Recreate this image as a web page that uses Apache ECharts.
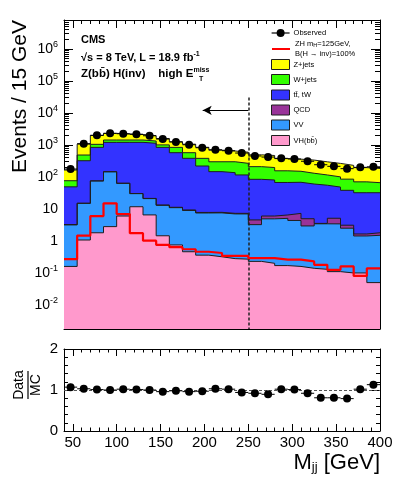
<!DOCTYPE html>
<html><head><meta charset="utf-8">
<script src="https://cdn.jsdelivr.net/npm/echarts@6/dist/echarts.min.js"></script>
<style>html,body{margin:0;padding:0;background:#fff}#c{width:399px;height:479px}</style>
</head><body><div id="c"></div>
<script>
// ---------------- data ----------------
const binEdges = [40,55,70,85,100,115,130,145,160,175,190,205,220,235,250,265,280,295,310,325,340,355,370,385,400];
const observed = [176,1090,1990,2290,2230,2140,1930,1520,1230,1010,815,705,657,556,450,417,380,362,308,240,214,181,199,207];
const zjets  = [88,576,930,870,766,699,610,583,420,482,460,387,347,326,280,270,218,208,205,181,164,144,125,117];
const wjets  = [27,162,205,220,220,220,200,165,265,190,161,151,162,150,125,116,88,82,70,60,52,47,38,34];
const ttbar  = [45.7,305,760,1055,1137,1170,1099,822,559,371,211,138,128,108,79.5,74,60.5,60.7,55,51.5,43,35,30.4,30.2];
const qcd    = [0.1,0.05,0.3,0.3,0.3,0.3,0.3,0.3,0.3,0.3,0.3,0.3,0.3,0.3,1.3,1.1,1.4,2.9,2.0,0.1,1.7,0.6,0.22,0.3];
const vv     = [3.0,13.9,73,142,57,18.3,14.5,11.5,10.2,8.5,7.1,7.2,6.7,6.7,3.0,4.7,4.9,4.2,2.8,3.3,3.3,2.4,1.33,1.45];
const vhbb   = [0.16,1.07,1.8,2.8,6.0,11.7,6.5,1.45,0.75,0.46,0.36,0.32,0.28,0.27,0.23,0.2,0.17,0.16,0.14,0.13,0.11,0.10,0.10,0.05];
const signal = [0.27,1.47,6.0,15,6.9,1.75,1.02,0.75,0.64,0.55,0.46,0.42,0.34,0.34,0.29,0.29,0.26,0.26,0.23,0.18,0.125,0.16,0.081,0.14];
const ratio  = [1.07,1.03,1.01,1.00,1.02,1.01,1.00,0.96,0.98,0.96,0.97,1.03,1.02,0.94,0.92,0.895,1.02,1.01,0.92,0.81,0.81,0.79,1.02,1.13];
const xMajorTicks = [50,100,150,200,250,300,350,400];
const yDecades = [-2,-1,0,1,2,3,4,5,6];
const ratioTicks = [0,1,2];
const cutValue = 250, arrowEnd = 198, cutTop = 3.0e4, arrowLevel = 1.2e4;

// ---------------- helpers ----------------
const FF = '"Liberation Sans", Arial, Helvetica, sans-serif';
const L10 = v => Math.log10(v);
const nb = observed.length;
const centers = observed.map((_, i) => (binEdges[i] + binEdges[i+1]) / 2);
const halfW = observed.map((_, i) => (binEdges[i+1] - binEdges[i]) / 2);
function cum(...arrs){ return arrs[0].map((_, i) => arrs.reduce((s, a) => s + a[i], 0)); }
const cVH = vhbb.slice();
const cVV = cum(vhbb, vv);
const cQCD = cum(vhbb, vv, qcd);
const cTT = cum(vhbb, vv, qcd, ttbar);
const cW = cum(vhbb, vv, qcd, ttbar, wjets);
const cZ = cum(vhbb, vv, qcd, ttbar, wjets, zjets);
function stepData(vals){ return binEdges.map((e, i) => [e, L10(vals[Math.min(i, nb-1)])]); }

const yMin = -2.75, yMax = 6.9;
const minorX = []; for (let v = 40; v <= 400; v += 10) if (v % 50) minorX.push(v);
const minorY = []; for (let d = -3; d <= 6; d++) for (let k = 2; k <= 9; k++) { const t = d + L10(k); if (t > yMin && t < yMax) minorY.push(t); }
const minorR = []; for (let v = 0.2; v < 2; v += 0.2) if (Math.abs(v - 1) > 0.01) minorR.push(+v.toFixed(2));

function xAx(grid, pos, ticks, len, labels, showLine){
  return { type:'value', gridIndex:grid, position:pos, min:40, max:400,
    axisLine:{show:showLine, onZero:false, lineStyle:{color:'#000', width:1}},
    axisTick:{show:true, inside:true, length:len, customValues:ticks, lineStyle:{color:'#000', width:1}},
    axisLabel: labels ? {show:true, customValues:xMajorTicks, fontSize:15, fontFamily:FF, color:'#000', margin:4} : {show:false},
    splitLine:{show:false} };
}
function yAx(grid, pos, min, max, ticks, len, labelCfg, showLine){
  return { type:'value', gridIndex:grid, position:pos, min:min, max:max,
    axisLine:{show:showLine, onZero:false, lineStyle:{color:'#000', width:1}},
    axisTick:{show:true, inside:true, length:len, customValues:ticks, lineStyle:{color:'#000', width:1}},
    axisLabel: labelCfg || {show:false},
    splitLine:{show:false} };
}
const mainYLabel = { show:true, customValues:yDecades, fontFamily:FF, color:'#000', margin:6,
  formatter: v => v === 0 ? '{b|1}' : v === 1 ? '{b|10}' : '{b|10}{s|' + v + '}',
  rich:{ b:{fontSize:14, fontFamily:FF, color:'#000'}, s:{fontSize:9, fontFamily:FF, color:'#000', padding:[0,0,9,0]} } };
const ratioYLabel = { show:true, customValues:ratioTicks, fontSize:15, fontFamily:FF, color:'#000', margin:6 };

function errRender(params, api){
  const x = api.value(0), y = api.value(1), lo = api.value(2), hi = api.value(3), hw = api.value(4);
  const a = api.coord([x - hw, y]), b = api.coord([x + hw, y]);
  const c = api.coord([x, lo]), d = api.coord([x, hi]);
  return { type:'group', children:[
    {type:'line', shape:{x1:a[0], y1:a[1], x2:b[0], y2:b[1]}, style:{stroke:'#000', lineWidth:1}},
    {type:'line', shape:{x1:c[0], y1:c[1], x2:d[0], y2:d[1]}, style:{stroke:'#000', lineWidth:1}} ] };
}

function stackSeries(name, vals, color){
  return { name:name, type:'line', xAxisIndex:0, yAxisIndex:0, step:'end', symbol:'none',
    data: stepData(vals), itemStyle:{color:color}, areaStyle:{color:color, opacity:1, origin:'start'},
    lineStyle:{color:'#1e1e1e', width:1}, silent:true, animation:false };
}

const sigName = 'signal';
const ttName = 'tt\u0304, tW', vhName = 'VH(bb\u0304)';
const mainErr = observed.map((o, i) => [centers[i], L10(o), L10(o - Math.sqrt(o)), L10(o + Math.sqrt(o)), halfW[i]]);
const ratioErr = ratio.map((r, i) => [centers[i], r, r - r / Math.sqrt(observed[i]), r + r / Math.sqrt(observed[i]), halfW[i]]);

function legendFor(name, top, extra){
  return Object.assign({ data:[name], left:271, top:top, orient:'vertical', itemWidth:18, itemHeight:10, itemGap:0, padding:0,
    selectedMode:false, icon:'rect', itemStyle:{borderColor:'#1e1e1e', borderWidth:1},
    textStyle:{fontSize:7.5, fontFamily:FF, color:'#000', padding:[0,0,0,-1]} }, extra || {});
}

const option = {
  animation:false,
  backgroundColor:'#fff',
  grid:[ {left:64, top:20, width:316, height:309, containLabel:false},
         {left:64, top:349, width:316, height:82, containLabel:false} ],
  xAxis:[ xAx(0,'bottom',xMajorTicks,8,false,true), xAx(0,'bottom',minorX,4,false,false),
          xAx(0,'top',xMajorTicks,8,false,true), xAx(0,'top',minorX,4,false,false),
          xAx(1,'bottom',xMajorTicks,7,true,true), xAx(1,'bottom',minorX,3.5,false,false),
          xAx(1,'top',xMajorTicks,7,false,true), xAx(1,'top',minorX,3.5,false,false) ],
  yAxis:[ yAx(0,'left',yMin,yMax,yDecades,9,mainYLabel,true), yAx(0,'left',yMin,yMax,minorY,5,null,false),
          yAx(0,'right',yMin,yMax,yDecades,9,null,true), yAx(0,'right',yMin,yMax,minorY,5,null,false),
          yAx(1,'left',0,2,ratioTicks,8,ratioYLabel,true), yAx(1,'left',0,2,minorR,4,null,false),
          yAx(1,'right',0,2,ratioTicks,8,null,true), yAx(1,'right',0,2,minorR,4,null,false) ],
  legend:[
    legendFor('Observed', 29, {icon:null, lineStyle:{width:1.2, color:'#000', opacity:1}, itemStyle:{color:'#000', borderWidth:0}}),
    legendFor(sigName, 39, {icon:null, lineStyle:{width:2, color:'#ff0000', opacity:1}, itemStyle:{opacity:0, borderWidth:0},
      formatter: () => 'ZH m{sub|H}=125GeV,\nB(H \u2192 inv)=100%',
      textStyle:{fontSize:7.5, fontFamily:FF, color:'#000', lineHeight:10, rich:{sub:{fontSize:5.5, fontFamily:FF, padding:[3,0,0,0]}}}}),
    legendFor('Z+jets', 59), legendFor('W+jets', 74), legendFor(ttName, 89.5),
    legendFor('QCD', 104.5), legendFor('VV', 119.5), legendFor(vhName, 135)
  ],
  title:[
    {text:'CMS', left:81, top:34, padding:0, textStyle:{fontSize:11, fontWeight:'bold', fontFamily:FF, color:'#000'}},
    {text:'\u221As = 8 TeV, L = 18.9 fb{s|-1}', left:81, top:51, padding:0,
      textStyle:{fontSize:11, fontWeight:'bold', fontFamily:FF, color:'#000',
        rich:{s:{fontSize:7, fontWeight:'bold', fontFamily:FF, padding:[0,0,6,0]}}}},
    {text:'Z(bb\u0304) H(inv)    high E{s|miss}', left:81, top:67, padding:0,
      textStyle:{fontSize:11.5, fontWeight:'bold', fontFamily:FF, color:'#000',
        rich:{s:{fontSize:7, fontWeight:'bold', fontFamily:FF, padding:[0,0,6,0]}}}},
    {text:'T', left:199, top:76, padding:0, textStyle:{fontSize:7, fontWeight:'bold', fontFamily:FF, color:'#000'}},
    {text:'M{s|jj} [GeV]', right:19, top:451, padding:0,
      textStyle:{fontSize:22, fontWeight:'normal', fontFamily:FF, color:'#000',
        rich:{s:{fontSize:13, fontWeight:'normal', fontFamily:FF, padding:[10,0,0,0]}}}}
  ],
  graphic:[
    {type:'text', rotation:Math.PI/2, x:10, y:20, style:{text:'Events / 15 GeV', font:'21px ' + FF, fill:'#000', align:'right', verticalAlign:'top'}},
    {type:'group', rotation:Math.PI/2, x:0, y:385, children:[
      {type:'text', x:0, y:19, style:{text:'Data', font:'14px ' + FF, fill:'#000', align:'center', verticalAlign:'middle'}},
      {type:'line', shape:{x1:-14, y1:28, x2:14, y2:28}, style:{stroke:'#000', lineWidth:1.2}},
      {type:'text', x:0, y:36, style:{text:'MC', font:'14px ' + FF, fill:'#000', align:'center', verticalAlign:'middle'}} ]}
  ],
  series:[
    stackSeries('Z+jets', cZ, '#ffff00'),
    stackSeries('W+jets', cW, '#33ff00'),
    stackSeries(ttName, cTT, '#3333ff'),
    stackSeries('QCD', cQCD, '#993399'),
    stackSeries('VV', cVV, '#3399ff'),
    stackSeries(vhName, cVH, '#ff99cc'),
    { name:sigName, type:'line', xAxisIndex:0, yAxisIndex:0, step:'end', symbol:'none', data:stepData(signal),
      itemStyle:{color:'#ff0000'}, lineStyle:{color:'#ff0000', width:2.2}, z:5, silent:true },
    { name:'Observed', type:'line', xAxisIndex:0, yAxisIndex:0, data:centers.map((c, i) => [c, L10(observed[i])]),
      symbol:'circle', symbolSize:8, showSymbol:true, itemStyle:{color:'#000', opacity:1}, lineStyle:{width:0, opacity:0}, z:7, silent:true,
      markLine:{silent:true, symbol:'none', label:{show:false}, animation:false, data:[
        [{coord:[cutValue, L10(cutTop)], lineStyle:{type:[3,2], width:1.5, color:'#222'}}, {coord:[cutValue, yMin]}],
        [{coord:[cutValue, L10(arrowLevel)], symbol:'none', lineStyle:{type:'solid', width:1, color:'#000'}},
         {coord:[arrowEnd, L10(arrowLevel)], symbol:'arrow', symbolSize:[7,9]}] ]} },
    { name:'ObservedErr', type:'custom', xAxisIndex:0, yAxisIndex:0, renderItem:errRender, data:mainErr,
      encode:{x:0, y:1}, z:6, silent:true },
    { name:'ratioErr', type:'custom', xAxisIndex:4, yAxisIndex:4, renderItem:errRender, data:ratioErr, encode:{x:0, y:1}, z:6, silent:true },
    { name:'ratio', type:'scatter', xAxisIndex:4, yAxisIndex:4, data:centers.map((c, i) => [c, ratio[i]]),
      symbol:'circle', symbolSize:8, itemStyle:{color:'#000', opacity:1}, z:7, silent:true,
      markLine:{silent:true, symbol:'none', label:{show:false}, lineStyle:{type:[3,2], width:1, color:'#555'},
        data:[{yAxis:1}]} }
  ]
};
const chart = echarts.init(document.getElementById('c'), null, {renderer:'canvas', width:399, height:479});
chart.setOption(option);
</script></body></html>
